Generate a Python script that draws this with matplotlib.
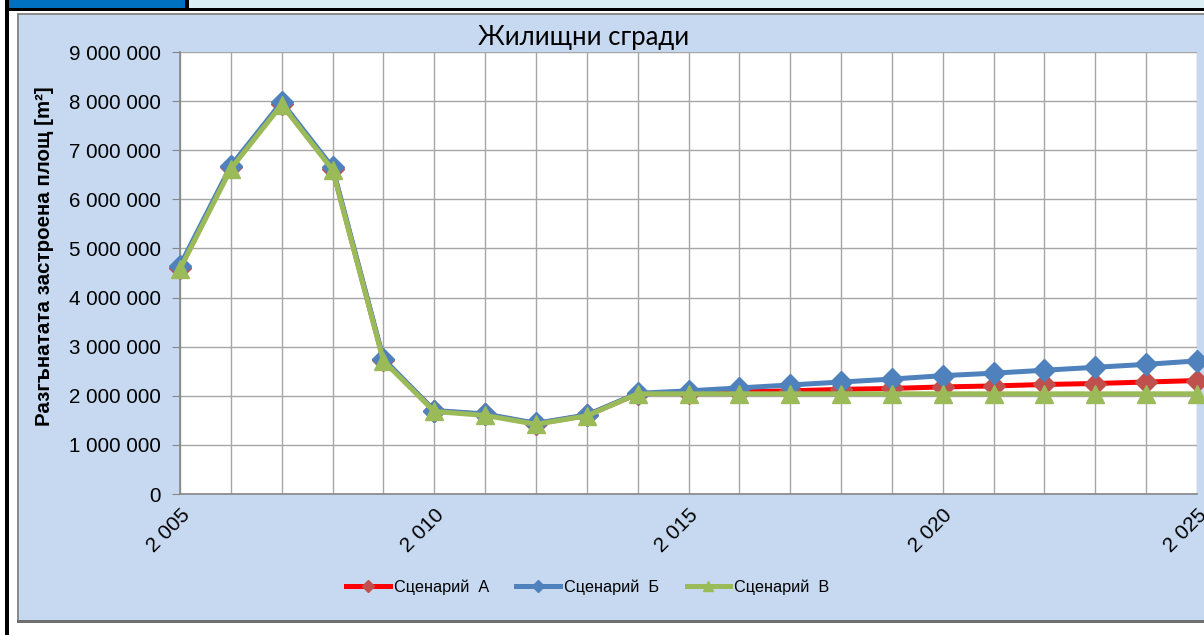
import matplotlib
matplotlib.use("Agg")
import matplotlib.pyplot as plt
import matplotlib.ticker as mtick
from matplotlib.patches import Rectangle

# ---------------------------------------------------------------------------
# Data
# ---------------------------------------------------------------------------
years = list(range(2005, 2026))

scenario_a = [4600000, 6650000, 7950000, 6620000, 2730000, 1690000, 1620000,
              1430000, 1600000, 2040000, 2060000, 2080000, 2100000, 2130000,
              2150000, 2180000, 2200000, 2230000, 2250000, 2280000, 2310000]
scenario_b = [4650000, 6680000, 7980000, 6650000, 2750000, 1700000, 1630000,
              1440000, 1610000, 2050000, 2100000, 2160000, 2220000, 2280000,
              2340000, 2410000, 2460000, 2520000, 2580000, 2640000, 2710000]
scenario_v = [4580000, 6620000, 7930000, 6600000, 2710000, 1680000, 1600000,
              1420000, 1590000, 2040000, 2040000, 2040000, 2040000, 2040000,
              2040000, 2040000, 2040000, 2040000, 2040000, 2040000, 2040000]

series_names = ["Сценарий  А", "Сценарий  Б", "Сценарий  В"]

title = "Жилищни сгради"
y_label = "Разгънатата застроена площ [m²]"

W, H = 1204, 635
fig = plt.figure(figsize=(W / 100, H / 100), dpi=100)
fig.patch.set_facecolor("white")


def px_rect(x0, y0, x1, y1, color):
    """Rectangle in pixel coordinates (origin top-left)."""
    fig.patches.append(Rectangle((x0 / W, 1 - y1 / H), (x1 - x0) / W, (y1 - y0) / H,
                                 transform=fig.transFigure, facecolor=color,
                                 edgecolor="none", zorder=-10))


# page frame around the chart
px_rect(8, 0, 185, 8, "#0070c0")
px_rect(189, 0, W, 8, "#daeef3")
px_rect(185, 0, 189, 9, "black")
px_rect(5, 8, W, 11, "black")
px_rect(5, 0, 9, H, "black")

# chart area
px_rect(17, 13, W, 623, "#8c8c8c")
px_rect(19, 15, W, 620, "#c6d9f0")
px_rect(17, 620, W, 623, "#6f6f6f")

# ---------------------------------------------------------------------------
# Plot
# ---------------------------------------------------------------------------
left, right, top, bottom = 180, 1197, 52, 494
ax = fig.add_axes([left / W, 1 - bottom / H, (right - left) / W, (bottom - top) / H])
ax.set_zorder(1)
ax.set_facecolor("white")

ax.plot(years, scenario_a, color="#ff0000", lw=3.6, marker="D", ms=11,
        mfc="#c0504d", mec="#c0504d", label=series_names[0], clip_on=False, zorder=3)
ax.plot(years, scenario_b, color="#4f81bd", lw=3.6, marker="D", ms=11,
        mfc="#4f81bd", mec="#4f81bd", label=series_names[1], clip_on=False, zorder=4)
ax.plot(years, scenario_v, color="#9bbb59", lw=3.6, marker="^", ms=12.5,
        mfc="#9bbb59", mec="#9bbb59", label=series_names[2], clip_on=False, zorder=5)

ax.set_xlim(2005, 2025)
ax.set_ylim(0, 9000000)
ax.xaxis.set_major_locator(mtick.MultipleLocator(1))
ax.yaxis.set_major_locator(mtick.MultipleLocator(1000000))


def space_thousands(v, pos=None):
    return f"{int(round(v)):,}".replace(",", " ")


ax.yaxis.set_major_formatter(mtick.FuncFormatter(space_thousands))
ax.xaxis.set_major_formatter(mtick.FuncFormatter(
    lambda v, pos: space_thousands(v) if int(round(v)) % 5 == 0 else ""))

ax.grid(True, color="#a6a6a6", lw=1)
ax.set_axisbelow(True)
for side in ["top", "right"]:
    ax.spines[side].set_visible(False)
for side in ["left", "bottom"]:
    ax.spines[side].set_color("#868686")
    ax.spines[side].set_linewidth(1.2)

ax.tick_params(axis="y", length=6, color="#868686", labelsize=14.8, pad=8,
               labelfontfamily="Liberation Sans")
ax.tick_params(axis="x", length=0, labelsize=15, pad=8,
               labelfontfamily="Liberation Sans")
for lbl in ax.get_xticklabels():
    lbl.set_rotation(45)
    lbl.set_ha("right")
    lbl.set_va("top")
    lbl.set_rotation_mode("anchor")

fig.text(45 / W, 1 - 256 / H, y_label, rotation=90, ha="center", va="center",
         fontsize=14.8, fontweight="bold", family="Liberation Sans")
fig.text(584 / W, 1 - 38 / H, title, ha="center", va="center",
         fontsize=18.5, family="Lato")

fig.legend(loc="center", bbox_to_anchor=(588 / W, 1 - 587 / H), ncol=3,
           frameon=False, prop={"family": "Liberation Sans", "size": 11.7},
           handlelength=2.7, handletextpad=0.25, columnspacing=1.66,
           markerscale=0.55)

fig.savefig("out.png", dpi=100)
